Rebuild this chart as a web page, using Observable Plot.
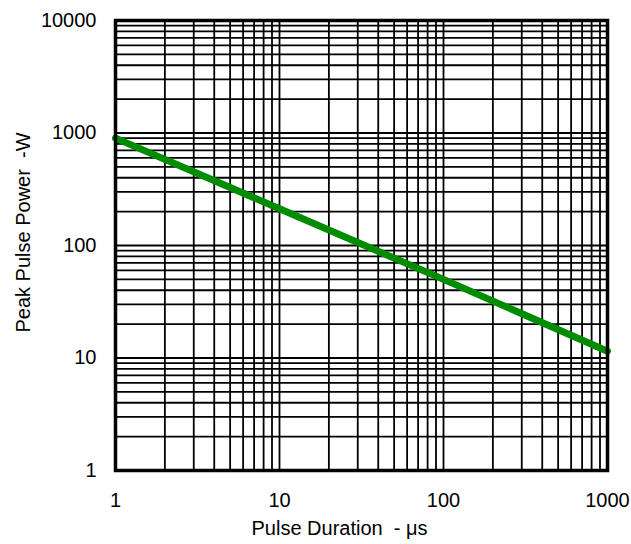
<!DOCTYPE html>
<html>
<head>
<meta charset="utf-8">
<script src="https://cdn.jsdelivr.net/npm/d3@7"></script>
<script src="https://cdn.jsdelivr.net/npm/@observablehq/plot@0.6"></script>
<style>
  html, body { margin: 0; padding: 0; background: #fff; }
  svg text { white-space: pre; }
</style>
</head>
<body>
<div id="chart"></div>
<script>
// Data
const pulseDuration = [1, 10, 100, 1000];          // µs
const peakPower     = [900, 212, 50, 11.5];        // W

const xTickValues = [1, 10, 100, 1000];
const yTickValues = [1, 10, 100, 1000, 10000];
const xDecades = [1, 10, 100];
const yDecades = [1, 10, 100, 1000];
const multipliers = [1, 2, 3, 4, 5, 6, 7, 8, 9];

const xTitle = "Pulse Duration  - μs";
const yTitle = "Peak Pulse Power  -W";

const series = pulseDuration.map((d, i) => ({x: d, y: peakPower[i]}));
const xGrid = xDecades.flatMap(d => multipliers.map(m => m * d)).concat([1000]);
const yGrid = yDecades.flatMap(d => multipliers.map(m => m * d)).concat([10000]);

const chart = Plot.plot({
  width: 631,
  height: 544,
  marginLeft: 115,
  marginRight: 24,
  marginTop: 20,
  marginBottom: 74,
  style: {fontFamily: "Liberation Sans, Arial, sans-serif", fontSize: "20px", color: "#000", background: "#fff"},
  x: {type: "log", domain: [1, 1000]},
  y: {type: "log", domain: [1, 10000]},
  marks: [
    Plot.ruleX(xGrid, {x: d => d, stroke: "#000", strokeWidth: 1.8}),
    Plot.ruleY(yGrid, {y: d => d, stroke: "#000", strokeWidth: 1.8}),
    Plot.line(series, {x: "x", y: "y", stroke: "#008c00", strokeWidth: 7, strokeLinecap: "round"}),
    Plot.frame({stroke: "#000", strokeWidth: 3.5}),
    Plot.axisX({ticks: xTickValues, tickFormat: d => String(d), tickSize: 0, tickPadding: 22, fontSize: 20, label: null}),
    Plot.axisY({ticks: yTickValues, tickFormat: d => String(d), tickSize: 0, tickPadding: 19, fontSize: 20, label: null}),
    Plot.text([xTitle], {text: d => d, frameAnchor: "bottom", lineAnchor: "bottom", textAnchor: "middle", dx: -22, dy: 64, fontSize: 20}),
    Plot.text([yTitle], {text: d => d, frameAnchor: "left", lineAnchor: "bottom", textAnchor: "middle", rotate: -90, dx: -86, dy: -13, fontSize: 20})
  ]
});
document.getElementById("chart").appendChild(chart);
</script>
</body>
</html>
